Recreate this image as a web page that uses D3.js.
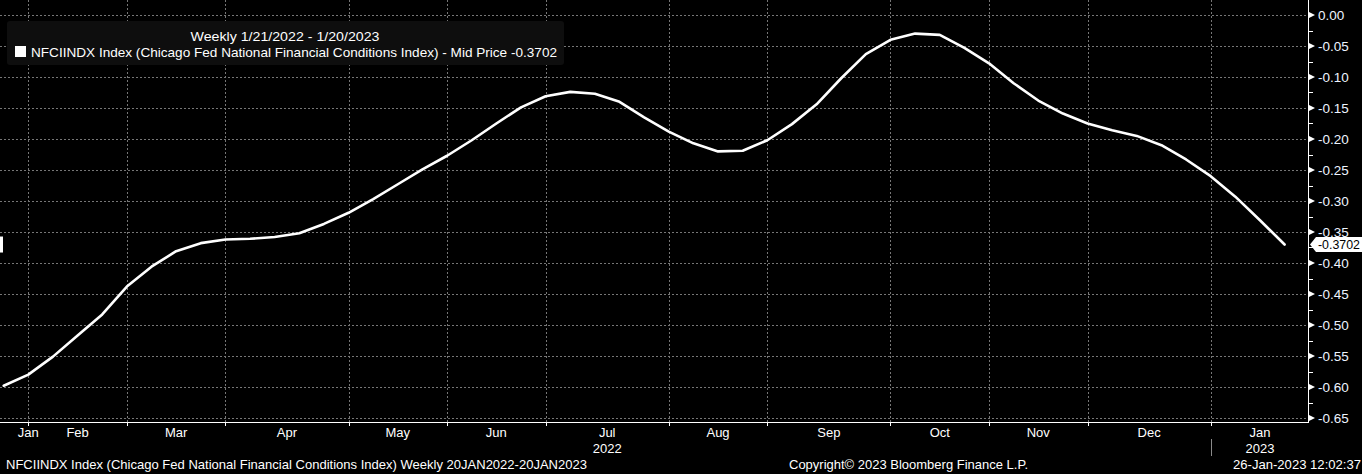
<!DOCTYPE html>
<html>
<head>
<meta charset="utf-8">
<script src="https://cdn.jsdelivr.net/npm/d3@7"></script>
<style>
  html, body { margin: 0; padding: 0; background: #000; overflow: hidden; }
  svg { display: block; }
  text { font-family: "Liberation Sans", Arial, sans-serif; }
</style>
</head>
<body>
<svg id="chart" width="1362" height="474"></svg>
<script>
// ---------------- DATA ----------------
const dates = [
  "2022-01-21","2022-01-28",
  "2022-02-04","2022-02-11","2022-02-18","2022-02-25",
  "2022-03-04","2022-03-11","2022-03-18","2022-03-25",
  "2022-04-01","2022-04-08","2022-04-15","2022-04-22","2022-04-29",
  "2022-05-06","2022-05-13","2022-05-20","2022-05-27",
  "2022-06-03","2022-06-10","2022-06-17","2022-06-24",
  "2022-07-01","2022-07-08","2022-07-15","2022-07-22","2022-07-29",
  "2022-08-05","2022-08-12","2022-08-19","2022-08-26",
  "2022-09-02","2022-09-09","2022-09-16","2022-09-23","2022-09-30",
  "2022-10-07","2022-10-14","2022-10-21","2022-10-28",
  "2022-11-04","2022-11-11","2022-11-18","2022-11-25",
  "2022-12-02","2022-12-09","2022-12-16","2022-12-23","2022-12-30",
  "2023-01-06","2023-01-13","2023-01-20"
];
const nfci = [
  -0.598, -0.580, -0.551, -0.517, -0.483, -0.438, -0.406, -0.381, -0.368, -0.362,
  -0.361, -0.358, -0.352, -0.337, -0.319, -0.297, -0.273, -0.249, -0.227, -0.202,
  -0.175, -0.149, -0.131, -0.124, -0.127, -0.140, -0.165, -0.188, -0.207, -0.220,
  -0.219, -0.202, -0.176, -0.144, -0.102, -0.063, -0.040, -0.030, -0.032, -0.053,
  -0.078, -0.110, -0.138, -0.159, -0.175, -0.186, -0.195, -0.210, -0.233, -0.260,
  -0.293, -0.331, -0.3702
];
const monthLabels = ["Jan","Feb","Mar","Apr","May","Jun","Jul","Aug","Sep","Oct","Nov","Dec","Jan"];
const monthLabelPos = [1, 3, 7, 11.5, 16, 20, 24.5, 29, 33.5, 38, 42, 46.5, 51];
const yearLabels = ["2022","2023"];
const yearLabelPos = [24.5, 51];
const yTicks = [0,-0.05,-0.10,-0.15,-0.20,-0.25,-0.30,-0.35,-0.40,-0.45,-0.50,-0.55,-0.60,-0.65];
const lastValueLabel = "-0.3702";
const legendTitle = "Weekly 1/21/2022 - 1/20/2023";
const legendSeries = "NFCIINDX Index (Chicago Fed National Financial Conditions Index) - Mid Price -0.3702";
const footerLeft = "NFCIINDX Index (Chicago Fed National Financial Conditions Index)  Weekly 20JAN2022-20JAN2023";
const footerMid = "Copyright\u00A9 2023 Bloomberg Finance L.P.";
const footerRight = "26-Jan-2023 12:02:37";

// ---------------- LAYOUT ----------------
const svg = d3.select("#chart");
const axisX = 1308, plotBottom = 422;
const x = d3.scaleLinear().domain([0, dates.length - 1]).range([3.7, 1284.6]);
const y = d3.scaleLinear().domain([0, -0.65]).range([15, 418]);

svg.append("rect").attr("width", 1362).attr("height", 474).attr("fill", "#000");

// month boundary gridlines: last weekly point of each month
const gridIdx = [];
for (let i = 0; i < dates.length - 1; i++) {
  if (dates[i].slice(5, 7) !== dates[i + 1].slice(5, 7)) gridIdx.push(i);
}

const grid = svg.append("g").attr("stroke", "#767676").attr("stroke-width", 1)
  .attr("stroke-dasharray", "2,2").attr("shape-rendering", "crispEdges");
grid.selectAll("line.h").data(yTicks).join("line")
  .attr("x1", 0).attr("x2", axisX)
  .attr("y1", d => Math.round(y(d)) + 0.5).attr("y2", d => Math.round(y(d)) + 0.5);
grid.selectAll("line.v").data(gridIdx).join("line")
  .attr("x1", d => Math.round(x(d)) + 0.5).attr("x2", d => Math.round(x(d)) + 0.5)
  .attr("y1", 0).attr("y2", plotBottom);

// axes lines
svg.append("line").attr("x1", axisX + 0.5).attr("x2", axisX + 0.5).attr("y1", 0).attr("y2", plotBottom + 1)
  .attr("stroke", "#fff").attr("stroke-width", 1).attr("shape-rendering", "crispEdges");
svg.append("line").attr("x1", 0).attr("x2", axisX + 1).attr("y1", plotBottom + 0.5).attr("y2", plotBottom + 0.5)
  .attr("stroke", "#fff").attr("stroke-width", 1).attr("shape-rendering", "crispEdges");

// bottom tick marks
svg.append("g").selectAll("line").data(gridIdx).join("line")
  .attr("x1", d => Math.round(x(d)) + 0.5).attr("x2", d => Math.round(x(d)) + 0.5)
  .attr("y1", plotBottom).attr("y2", plotBottom + 4)
  .attr("stroke", "#fff").attr("shape-rendering", "crispEdges");

// right axis: major arrow ticks, minor ticks, labels
const ra = svg.append("g");
ra.selectAll("path.maj").data(yTicks).join("path")
  .attr("d", d => { const yy = y(d); return `M${axisX},${yy - 3.5}L${axisX + 7},${yy}L${axisX},${yy + 3.5}Z`; })
  .attr("fill", "#fff");
const minor = yTicks.slice(0, -1).map(d => d - 0.025);
ra.selectAll("line.min").data(minor).join("line")
  .attr("x1", axisX).attr("x2", axisX + 5)
  .attr("y1", d => Math.round(y(d)) + 0.5).attr("y2", d => Math.round(y(d)) + 0.5)
  .attr("stroke", "#fff").attr("shape-rendering", "crispEdges");
ra.selectAll("text").data(yTicks).join("text")
  .attr("x", 1318).attr("y", d => y(d)).attr("dy", "0.36em")
  .attr("fill", "#eef4ff").attr("font-size", 13.5)
  .text(d => d3.format(".2f")(d).replace("−", "-"));

// month labels
svg.append("g").selectAll("text").data(monthLabels).join("text")
  .attr("x", (d, i) => x(monthLabelPos[i])).attr("y", 437)
  .attr("text-anchor", "middle").attr("fill", "#fff").attr("font-size", 13)
  .text(d => d);
svg.append("g").selectAll("text").data(yearLabels).join("text")
  .attr("x", (d, i) => x(yearLabelPos[i])).attr("y", 453)
  .attr("text-anchor", "middle").attr("fill", "#fff").attr("font-size", 13)
  .text(d => d);
// year separator
const sepIdx = dates.findIndex(d => d.startsWith("2023")) - 1;
svg.append("line").attr("x1", Math.round(x(sepIdx)) + 0.5).attr("x2", Math.round(x(sepIdx)) + 0.5)
  .attr("y1", 439).attr("y2", 456).attr("stroke", "#8a8a8a").attr("shape-rendering", "crispEdges");

// data line
const line = d3.line().x((d, i) => x(i)).y(d => y(d));
svg.append("path").datum(nfci).attr("d", line)
  .attr("fill", "none").attr("stroke", "#fff").attr("stroke-width", 2.6)
  .attr("stroke-linejoin", "round").attr("stroke-linecap", "round");

// last price tag on right
const ly = y(nfci[nfci.length - 1]);
svg.append("path")
  .attr("d", `M1310,${ly}L1316,${ly - 7.5}L1362,${ly - 7.5}L1362,${ly + 7.5}L1316,${ly + 7.5}Z`)
  .attr("fill", "#fff");
svg.append("text").attr("x", 1318).attr("y", ly).attr("dy", "0.36em")
  .attr("fill", "#000").attr("font-size", 13).attr("textLength", 42).attr("lengthAdjust", "spacingAndGlyphs")
  .text(lastValueLabel);
// clipped left marker
svg.append("rect").attr("x", 0).attr("y", ly - 8).attr("width", 3).attr("height", 16).attr("fill", "#fff");

// legend
const lg = svg.append("g");
lg.append("rect").attr("x", 7).attr("y", 21).attr("width", 557).attr("height", 44).attr("rx", 3)
  .attr("fill", "#0e0e0e");
lg.append("text").attr("x", 285).attr("y", 41).attr("text-anchor", "middle")
  .attr("fill", "#fff").attr("font-size", 13).attr("textLength", 189).attr("lengthAdjust", "spacingAndGlyphs")
  .text(legendTitle);
lg.append("rect").attr("x", 15).attr("y", 46).attr("width", 11).attr("height", 11).attr("fill", "#fff");
lg.append("text").attr("x", 31).attr("y", 57)
  .attr("fill", "#fff").attr("font-size", 13).attr("textLength", 526).attr("lengthAdjust", "spacingAndGlyphs")
  .text(legendSeries);

// footer
const ft = svg.append("g").attr("fill", "#fff").attr("font-size", 13);
ft.append("text").attr("x", 6).attr("y", 469).attr("textLength", 581).attr("lengthAdjust", "spacingAndGlyphs").text(footerLeft);
ft.append("text").attr("x", 789).attr("y", 469).attr("textLength", 239).attr("lengthAdjust", "spacingAndGlyphs").text(footerMid);
ft.append("text").attr("x", 1233).attr("y", 469).attr("textLength", 128).attr("lengthAdjust", "spacingAndGlyphs").text(footerRight);
</script>
</body>
</html>
